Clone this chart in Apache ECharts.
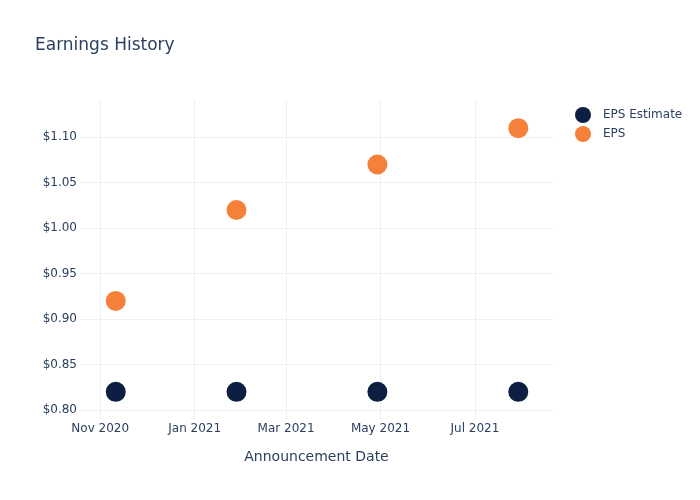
<!DOCTYPE html>
<html>
<head>
<meta charset="utf-8">
<script src="https://cdn.jsdelivr.net/npm/echarts@6/dist/echarts.min.js"></script>
<style>html,body{margin:0;padding:0;background:#fff}#c{width:700px;height:500px}</style>
</head>
<body>
<div id="c"></div>
<script>
var dates = ['2020-11-11', '2021-01-28', '2021-04-29', '2021-07-29'];
var epsEstimate = [0.82, 0.82, 0.82, 0.82];
var eps = [0.92, 1.02, 1.07, 1.11];
var seriesNames = ['EPS Estimate', 'EPS'];
var MONTHS = ['Jan','Feb','Mar','Apr','May','Jun','Jul','Aug','Sep','Oct','Nov','Dec'];

var font = 'DejaVu Sans';
var txt = '#2a3f5f';
var grid = '#ebf0f8';

var chart = echarts.init(document.getElementById('c'), null, {renderer: 'canvas'});
chart.setOption({
  animation: false,
  backgroundColor: '#fff',
  title: {
    text: 'Earnings History',
    left: 30, top: 32,
    textStyle: {fontFamily: font, fontSize: 17, fontWeight: 'normal', color: txt}
  },
  legend: {
    orient: 'vertical',
    left: 570, top: 102,
    itemWidth: 16, itemHeight: 16, itemGap: 3,
    icon: 'circle',
    data: seriesNames,
    textStyle: {fontFamily: font, fontSize: 12, color: txt, padding: [0, 0, 0, 7]}
  },
  grid: {left: 80, right: 147, top: 100, bottom: 80, containLabel: false},
  xAxis: {
    type: 'time',
    min: new Date('2020-10-18T22:00:00').getTime(),
    max: new Date('2021-08-20T10:00:00').getTime(),
    splitNumber: 4,
    name: 'Announcement Date',
    nameLocation: 'middle',
    nameGap: 30,
    nameTextStyle: {fontFamily: font, fontSize: 14, color: txt},
    axisLine: {show: false},
    axisTick: {show: false},
    splitLine: {show: true, showMinLine: false, showMaxLine: false, lineStyle: {color: grid, width: 1}},
    minorTick: {show: false},
    axisLabel: {
      fontFamily: font, fontSize: 12, color: txt, margin: 3,
      formatter: function (v) { var d = new Date(v); return MONTHS[d.getMonth()] + ' ' + d.getFullYear(); }
    }
  },
  yAxis: {
    type: 'value',
    min: 0.789, max: 1.141,
    splitNumber: 7,
    axisLine: {show: false},
    axisTick: {show: false},
    splitLine: {show: true, showMinLine: false, showMaxLine: false, lineStyle: {color: grid, width: 1}},
    axisLabel: {
      fontFamily: font, fontSize: 12, color: txt, margin: 3,
      showMinLabel: false, showMaxLabel: false,
      formatter: function (v) { return '$' + v.toFixed(2); }
    }
  },
  series: [
    {
      name: seriesNames[0], type: 'scatter', symbolSize: 20,
      itemStyle: {color: '#0c1f42', opacity: 1},
      data: dates.map(function (d, i) { return [d, epsEstimate[i]]; })
    },
    {
      name: seriesNames[1], type: 'scatter', symbolSize: 20,
      itemStyle: {color: '#f5803a', opacity: 1},
      data: dates.map(function (d, i) { return [d, eps[i]]; })
    }
  ]
});
</script>
</body>
</html>
